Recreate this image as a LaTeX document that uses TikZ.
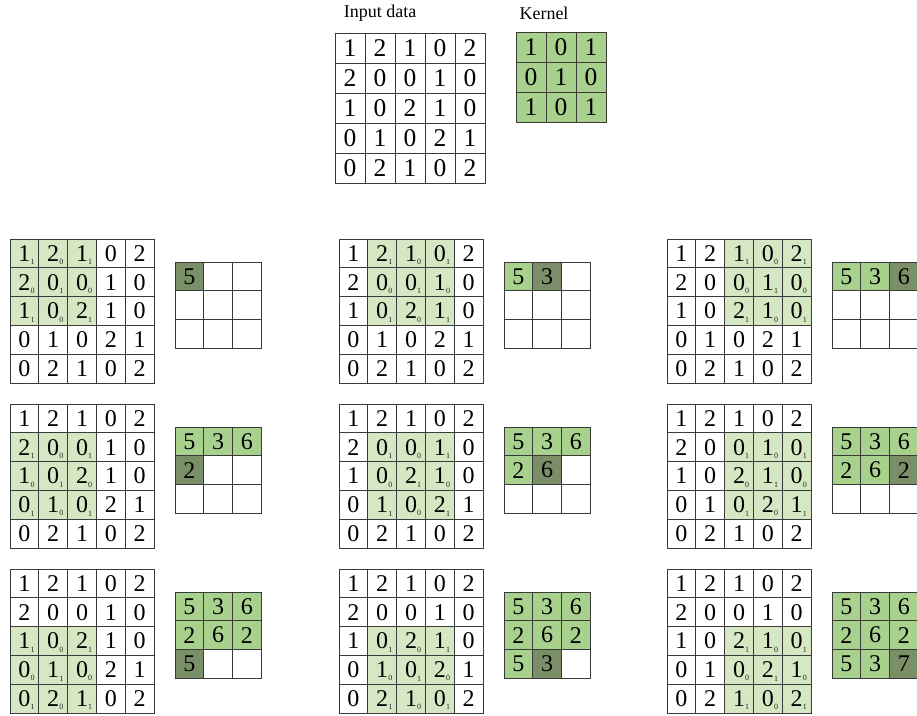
\documentclass[tikz,border=0pt]{standalone}
\usepackage{fontspec}
\setmainfont{Liberation Serif}
\definecolor{lightg}{HTML}{D5E8C3}
\definecolor{midg}{HTML}{A9D18E}
\definecolor{darkg}{HTML}{7A8F68}
\definecolor{gridline}{HTML}{3A3A3A}
\begin{document}
\begin{tikzpicture}[x=1pt,y=-1pt,
  cell/.style={draw=gridline, line width=0.9pt, minimum size=28.8pt, inner sep=0pt, outer sep=0pt, font=\fontsize{24}{24}\selectfont},
  bigcell/.style={cell, minimum size=30pt, font=\fontsize{25.5}{25.5}\selectfont},
  sub/.style={font=\fontsize{8}{8}\selectfont, inner sep=0pt, text=black!85},
  lbl/.style={font=\fontsize{18}{18}\selectfont, inner sep=0pt}]
\useasboundingbox (0,0) rectangle (917,715);
\clip (0,0) rectangle (917,715);
\def\inA{{1,2,1,0,2,2,0,0,1,0,1,0,2,1,0,0,1,0,2,1,0,2,1,0,2}}
\def\kernvals{{1,0,1,0,1,0,1,0,1}}
\def\outv{{5,3,6,2,6,2,5,3,7}}
% labels
\node[lbl] (lblin) at (380,13) {Input data};
\node[lbl] (lblk) at (544,13) {Kernel};
% input data
\foreach \r in {0,...,4}{\foreach \c in {0,...,4}{
  \pgfmathtruncatemacro\v{\inA[\r*5+\c]}
  \node[bigcell] (in-\r-\c) at ({335+(\c+0.5)*30},{33+(\r+0.5)*30}) {\v};
}}
% kernel
\foreach \r in {0,...,2}{\foreach \c in {0,...,2}{
  \pgfmathtruncatemacro\v{\kernvals[\r*3+\c]}
  \node[bigcell, fill=midg] (k-\r-\c) at ({516+(\c+0.5)*30},{32+(\r+0.5)*30}) {\v};
}}
% steps
\foreach \gi in {0,1,2}{\foreach \gj in {0,1,2}{
  \pgfmathsetmacro\gx{{10,339,667}[\gj]}
  \pgfmathsetmacro\ox{{175,504,832}[\gj]}
  \pgfmathsetmacro\gy{239+165*\gi}
  \pgfmathtruncatemacro\k{\gi*3+\gj}
  \foreach \r in {0,...,4}{\foreach \c in {0,...,4}{
    \pgfmathtruncatemacro\v{\inA[\r*5+\c]}
    \pgfmathtruncatemacro\inwin{(\r>=\gi)&&(\r<=\gi+2)&&(\c>=\gj)&&(\c<=\gj+2)}
    \ifnum\inwin=1
      \pgfmathtruncatemacro\s{\kernvals[(\r-\gi)*3+\c-\gj]}
      \node[cell, fill=lightg] (c-\k-\r-\c) at ({\gx+(\c+0.5)*28.8},{\gy+(\r+0.5)*28.8}) {\v\hspace{2pt}};
      \node[sub, anchor=south east] (s-\k-\r-\c) at ([xshift=-4pt,yshift=3pt]c-\k-\r-\c.south east) {\s};
    \else
      \node[cell] (c-\k-\r-\c) at ({\gx+(\c+0.5)*28.8},{\gy+(\r+0.5)*28.8}) {\v};
    \fi
  }}
  \foreach \m in {0,...,8}{
    \pgfmathtruncatemacro\orow{int(\m/3)}
    \pgfmathtruncatemacro\ocol{mod(\m,3)}
    \pgfmathtruncatemacro\ov{\outv[\m]}
    \ifnum\m<\k
      \node[cell, minimum size=28.7pt, fill=midg] (o-\k-\m) at ({\ox+(\ocol+0.5)*28.7},{\gy+23+(\orow+0.5)*28.7}) {\ov};
    \else\ifnum\m=\k
      \node[cell, minimum size=28.7pt, fill=darkg] (o-\k-\m) at ({\ox+(\ocol+0.5)*28.7},{\gy+23+(\orow+0.5)*28.7}) {\ov};
    \else
      \node[cell, minimum size=28.7pt] (o-\k-\m) at ({\ox+(\ocol+0.5)*28.7},{\gy+23+(\orow+0.5)*28.7}) {};
    \fi\fi
  }
}}
\end{tikzpicture}
\end{document}
